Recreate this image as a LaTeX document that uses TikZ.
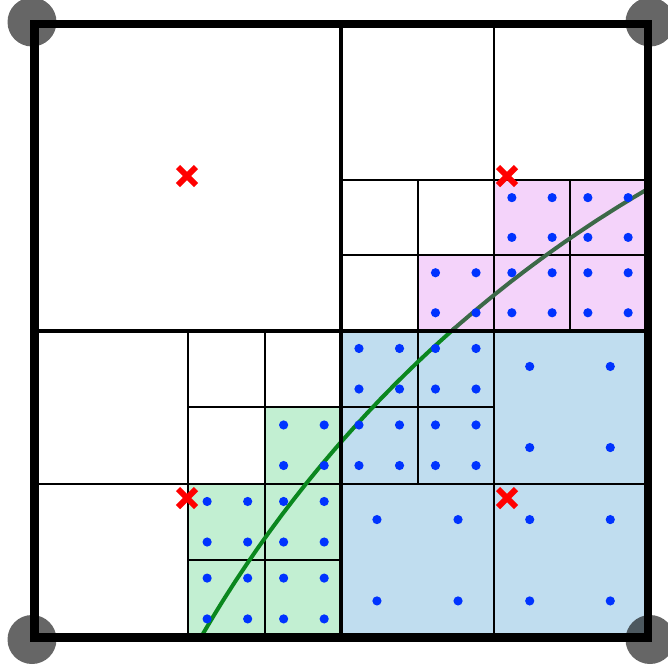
\documentclass[tikz,border=0pt]{standalone}
\definecolor{pinkfill}{RGB}{244,211,250}
\definecolor{bluefill}{RGB}{192,221,239}
\definecolor{greenfill}{RGB}{194,239,210}
\definecolor{dotblue}{RGB}{0,51,255}
\definecolor{curvegreen}{RGB}{10,135,30}
\definecolor{curvegrey}{RGB}{60,105,72}
\tikzset{
  fine/.style={line width=2pt, draw=black},
  midline/.style={line width=4pt, draw=black},
  outerborder/.style={line width=8.5pt, draw=black},
  pinkcell/.style={fill=pinkfill},
  bluecell/.style={fill=bluefill},
  greencell/.style={fill=greenfill},
  qdot/.style={fill=dotblue},
  xmark/.style={draw=red, line width=6pt},
  cornerdisc/.style={fill=black, fill opacity=0.6},
  curvelo/.style={draw=curvegreen, line width=4pt},
  curvehi/.style={draw=curvegrey, line width=4pt},
}
\def\pinkcells{417.5/255/494/330.5, 494/180/570/255, 570/180/646/255, 494/255/570/330.5, 570/255/646/330.5}
\def\bluecells{341/330.5/417.5/407, 417.5/330.5/494/407, 341/407/417.5/483.5, 417.5/407/494/483.5, 494/330.5/646/483.5, 341/483.5/494/637, 494/483.5/646/637}
\def\greencells{264.5/407/341/483.5, 188/483.5/264.5/560, 264.5/483.5/341/560, 188/560/264.5/637, 264.5/560/341/637}
\begin{document}
\begin{tikzpicture}[x=1pt, y=-1pt]
\useasboundingbox (0,0) rectangle (668,670);
% fills
\foreach \a/\b/\c/\d in \pinkcells {\fill[pinkcell] (\a,\b) rectangle (\c,\d);}
\foreach \a/\b/\c/\d in \bluecells {\fill[bluecell] (\a,\b) rectangle (\c,\d);}
\foreach \a/\b/\c/\d in \greencells {\fill[greencell] (\a,\b) rectangle (\c,\d);}
% fine grid lines
\coordinate (v494t) at (494,24);   \coordinate (v494b) at (494,637);
\coordinate (v4175t) at (417.5,180); \coordinate (v4175b) at (417.5,483.5);
\coordinate (v570t) at (570,180);  \coordinate (v570b) at (570,330.5);
\coordinate (v188t) at (188,330.5); \coordinate (v188b) at (188,637);
\coordinate (v2645t) at (264.5,330.5); \coordinate (v2645b) at (264.5,637);
\coordinate (h180l) at (341,180);  \coordinate (h180r) at (648,180);
\coordinate (h255l) at (341,255);  \coordinate (h255r) at (648,255);
\coordinate (h407l) at (188,407);  \coordinate (h407r) at (494,407);
\coordinate (h4835l) at (34.5,483.5); \coordinate (h4835r) at (648,483.5);
\coordinate (h560l) at (188,560);  \coordinate (h560r) at (341,560);
\draw[fine] (v494t) -- (v494b);
\draw[fine] (v4175t) -- (v4175b);
\draw[fine] (v570t) -- (v570b);
\draw[fine] (v188t) -- (v188b);
\draw[fine] (v2645t) -- (v2645b);
\draw[fine] (h180l) -- (h180r);
\draw[fine] (h255l) -- (h255r);
\draw[fine] (h407l) -- (h407r);
\draw[fine] (h4835l) -- (h4835r);
\draw[fine] (h560l) -- (h560r);
% curve
\draw[curvelo] plot[domain=149.73:131.3, samples=40, smooth] ({1272+1238*cos(\x)},{1258-1238*sin(\x)});
\draw[curvehi] plot[domain=131.44:120.3, samples=30, smooth] ({1272+1238*cos(\x)},{1258-1238*sin(\x)});
% middle lines
\coordinate (vmt) at (341,24); \coordinate (vmb) at (341,637);
\coordinate (hml) at (34.5,330.5); \coordinate (hmr) at (648,330.5);
\draw[midline] (vmt) -- (vmb);
\draw[midline] (hml) -- (hmr);
% dots
\foreach \a/\b/\c/\d in \pinkcells {
  \foreach \fx in {0.235,0.765}{\foreach \fy in {0.235,0.765}{
    \fill[qdot] ({\a+\fx*(\c-\a)},{\b+\fy*(\d-\b)}) circle[radius=4.6pt];}}}
\foreach \a/\b/\c/\d in \bluecells {
  \foreach \fx in {0.235,0.765}{\foreach \fy in {0.235,0.765}{
    \fill[qdot] ({\a+\fx*(\c-\a)},{\b+\fy*(\d-\b)}) circle[radius=4.6pt];}}}
\foreach \a/\b/\c/\d in \greencells {
  \foreach \fx in {0.25,0.78}{\foreach \fy in {0.235,0.765}{
    \fill[qdot] ({\a+\fx*(\c-\a)},{\b+\fy*(\d-\b)}) circle[radius=4.6pt];}}}
% red crosses
\foreach \p in {(187,176),(507,176),(187,498),(507,498)} {
  \draw[xmark] \p +(-9,-9) -- +(9,9) \p +(-9,9) -- +(9,-9);
}
% outer border
\coordinate (bl) at (34.5,24); \coordinate (tr) at (648,637.5);
\draw[outerborder] (bl) rectangle (tr);
% corner discs
\foreach \p in {(32,22),(650,22),(32,639.5),(650,639.5)} {
  \fill[cornerdisc] \p circle[radius=24.5pt];
}
\end{tikzpicture}
\end{document}
